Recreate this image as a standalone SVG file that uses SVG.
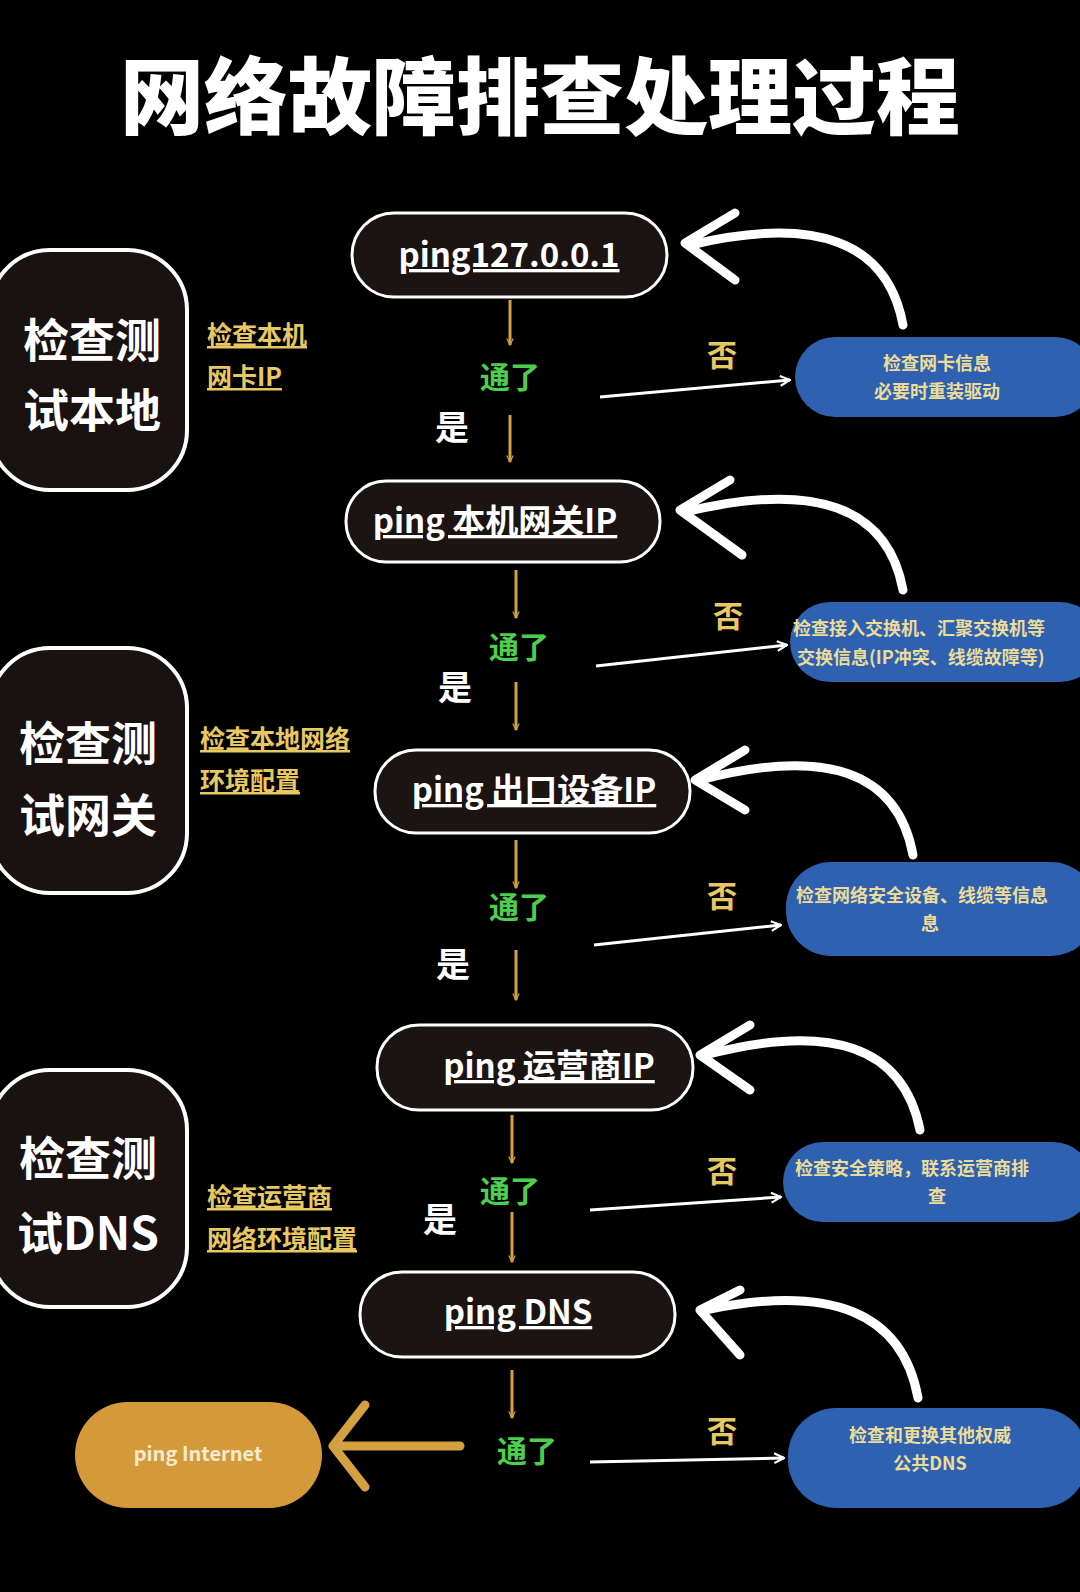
<svg xmlns="http://www.w3.org/2000/svg" width="1080" height="1592" viewBox="0 0 1080 1592">
<defs>
<style>
text{font-family:"Noto Sans CJK SC","Noto Sans",sans-serif}
.title{fill:#fff;font-size:84px;font-weight:900;text-anchor:middle}
.side rect{fill:#1a1111;stroke:#fff;stroke-width:4}
.side text{fill:#fff;font-size:46px;font-weight:700;text-anchor:middle}
.note{fill:#e8c860;font-size:25px;font-weight:700;text-decoration:underline}
.main rect{fill:#1c1313;stroke:#fff;stroke-width:3}
.main text{fill:#fff;font-size:33px;font-weight:700;text-anchor:middle;text-decoration:underline}
.blue rect{fill:#2e62b0}
.blue text{fill:#ecdc98;font-size:18px;font-weight:700}
.ok{fill:#4ccf4c;font-size:30px;font-weight:700;text-anchor:middle}
.yes{fill:#fff;font-size:34px;font-weight:700;text-anchor:middle}
.no{fill:#e8c860;font-size:30px;font-weight:700;text-anchor:middle}
.oa{stroke:#d4a040;stroke-width:3;fill:none}
.wa{stroke:#fff;stroke-width:3;fill:none}
.curve{stroke:#fff;stroke-width:9;fill:none;stroke-linecap:round;stroke-linejoin:round}
</style>
<marker id="oh" viewBox="0 0 20 20" refX="18" refY="10" markerWidth="8" markerHeight="8" orient="auto" markerUnits="userSpaceOnUse"><path d="M2,2 L18,10 L2,18" fill="none" stroke="#d4a040" stroke-width="3"/></marker>
<marker id="wh" viewBox="0 0 20 20" refX="18" refY="10" markerWidth="14" markerHeight="14" orient="auto" markerUnits="userSpaceOnUse"><path d="M4,3 L18,10 L4,17" fill="none" stroke="#fff" stroke-width="3"/></marker>
</defs>
<rect width="1080" height="1592" fill="#000"/>
<text class="title" x="540" y="128">网络故障排查处理过程</text>

<g id="side1" class="side"><rect x="-10" y="250" width="197" height="240" rx="60"/><text x="92" y="357">检查测</text><text x="92" y="427">试本地</text></g>
<g id="side2" class="side"><rect x="-10" y="648" width="197" height="245" rx="60"/><text x="88" y="760">检查测</text><text x="88" y="832">试网关</text></g>
<g id="side3" class="side"><rect x="-10" y="1070" width="197" height="237" rx="60"/><text x="88" y="1175">检查测</text><text x="88" y="1250">试DNS</text></g>

<g id="notes">
<text class="note" x="207" y="344">检查本机</text><text class="note" x="207" y="386">网卡IP</text>
<text class="note" x="200" y="748">检查本地网络</text><text class="note" x="200" y="790">环境配置</text>
<text class="note" x="207" y="1206">检查运营商</text><text class="note" x="207" y="1248">网络环境配置</text>
</g>

<g id="n1" class="main"><rect x="352" y="213" width="315" height="84" rx="42"/><text x="509" y="267">ping127.0.0.1</text></g>
<g id="n2" class="main"><rect x="346" y="481" width="314" height="81" rx="40"/><text x="495" y="533">ping 本机网关IP</text></g>
<g id="n3" class="main"><rect x="375" y="750" width="315" height="83" rx="41"/><text x="534" y="802">ping 出口设备IP</text></g>
<g id="n4" class="main"><rect x="377" y="1025" width="316" height="85" rx="42"/><text x="549" y="1078">ping 运营商IP</text></g>
<g id="n5" class="main"><rect x="360" y="1272" width="315" height="85" rx="42"/><text x="518" y="1324">ping DNS</text></g>

<g id="b1" class="blue"><rect x="795" y="337" width="300" height="80" rx="40"/><text x="937" y="370" text-anchor="middle">检查网卡信息</text><text x="937" y="398" text-anchor="middle">必要时重装驱动</text></g>
<g id="b2" class="blue"><rect x="790" y="602" width="310" height="80" rx="40"/><text x="793" y="635">检查接入交换机、汇聚交换机等</text><text x="797" y="664">交换信息(IP冲突、线缆故障等)</text></g>
<g id="b3" class="blue"><rect x="786" y="862" width="310" height="94" rx="45"/><text x="796" y="902">检查网络安全设备、线缆等信息</text><text x="921" y="930">息</text></g>
<g id="b4" class="blue"><rect x="783" y="1142" width="310" height="80" rx="40"/><text x="795" y="1175">检查安全策略，联系运营商排</text><text x="928" y="1203">查</text></g>
<g id="b5" class="blue"><rect x="788" y="1408" width="300" height="100" rx="48"/><text x="930" y="1442" text-anchor="middle">检查和更换其他权威</text><text x="930" y="1470" text-anchor="middle">公共DNS</text></g>

<g id="end"><rect x="75" y="1402" width="247" height="106" rx="53" fill="#d49a3a"/><text x="198" y="1461" fill="#f4ead0" font-size="20" font-weight="700" text-anchor="middle">ping Internet</text></g>

<g id="labels">
<text class="ok" x="510" y="388">通了</text><text class="yes" x="452" y="440">是</text><text class="no" x="722" y="366">否</text>
<text class="ok" x="519" y="658">通了</text><text class="yes" x="455" y="700">是</text><text class="no" x="728" y="627">否</text>
<text class="ok" x="519" y="918">通了</text><text class="yes" x="453" y="977">是</text><text class="no" x="722" y="907">否</text>
<text class="ok" x="510" y="1202">通了</text><text class="yes" x="440" y="1232">是</text><text class="no" x="722" y="1182">否</text>
<text class="ok" x="527" y="1462">通了</text><text class="no" x="722" y="1442">否</text>
</g>

<g id="connectors">
<line class="oa" x1="510" y1="300" x2="510" y2="345" marker-end="url(#oh)"/>
<line class="oa" x1="510" y1="415" x2="510" y2="462" marker-end="url(#oh)"/>
<line class="oa" x1="516" y1="570" x2="516" y2="618" marker-end="url(#oh)"/>
<line class="oa" x1="516" y1="682" x2="516" y2="730" marker-end="url(#oh)"/>
<line class="oa" x1="516" y1="840" x2="516" y2="888" marker-end="url(#oh)"/>
<line class="oa" x1="516" y1="950" x2="516" y2="1000" marker-end="url(#oh)"/>
<line class="oa" x1="512" y1="1115" x2="512" y2="1163" marker-end="url(#oh)"/>
<line class="oa" x1="512" y1="1212" x2="512" y2="1262" marker-end="url(#oh)"/>
<line class="oa" x1="512" y1="1370" x2="512" y2="1418" marker-end="url(#oh)"/>

<line class="wa" x1="600" y1="397" x2="790" y2="380" marker-end="url(#wh)"/>
<line class="wa" x1="596" y1="666" x2="787" y2="645" marker-end="url(#wh)"/>
<line class="wa" x1="594" y1="945" x2="781" y2="925" marker-end="url(#wh)"/>
<line class="wa" x1="590" y1="1210" x2="781" y2="1197" marker-end="url(#wh)"/>
<line class="wa" x1="590" y1="1462" x2="784" y2="1458" marker-end="url(#wh)"/>

<path class="curve" d="M903,325 Q880,200 690,245 M735,213 L685,243 L735,280"/>
<path class="curve" d="M903,590 Q880,465 685,512 M730,480 L680,510 L742,555"/>
<path class="curve" d="M913,855 Q890,730 700,780 M745,750 L695,780 L745,810"/>
<path class="curve" d="M920,1130 Q895,1005 705,1055 M750,1025 L700,1055 L750,1090"/>
<path class="curve" d="M918,1398 Q895,1270 705,1310 M740,1290 L700,1310 L740,1355"/>

<path d="M460,1446 L340,1446 M365,1405 L333,1446 L365,1487" stroke="#d4a040" stroke-width="9" fill="none" stroke-linecap="round" stroke-linejoin="round"/>
</g>
</svg>
